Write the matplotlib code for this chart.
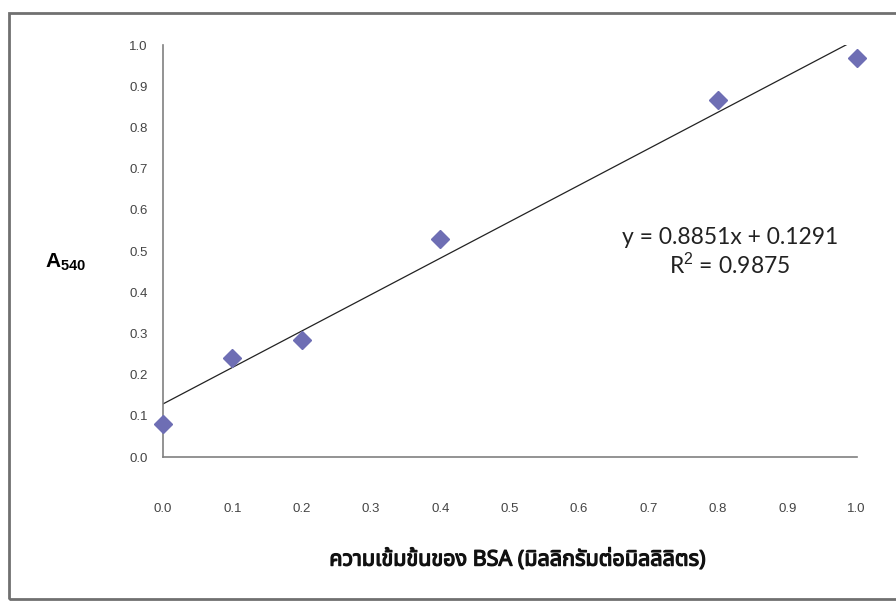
import numpy as np
import matplotlib.pyplot as plt
import matplotlib.patheffects as pe
from matplotlib.patches import Rectangle

# BSA standard curve values
conc = [0.0, 0.1, 0.2, 0.4, 0.8, 1.0]
a540 = [0.08, 0.24, 0.285, 0.53, 0.866, 0.968]
xticks = [0.0, 0.1, 0.2, 0.3, 0.4, 0.5, 0.6, 0.7, 0.8, 0.9, 1.0]
yticks = [0.0, 0.1, 0.2, 0.3, 0.4, 0.5, 0.6, 0.7, 0.8, 0.9, 1.0]
slope = 0.8851
intercept = 0.1291
r2 = 0.9875

plt.rcParams['mathtext.fontset'] = 'custom'
plt.rcParams['mathtext.rm'] = 'Liberation Sans'
plt.rcParams['mathtext.bf'] = 'Liberation Sans:bold'

fig = plt.figure(figsize=(8.96, 6.03), dpi=100)
ax = fig.add_axes([0.182, 0.242, 0.774, 0.683])

ax.plot(conc, a540, 'D', color='#6e6eb4', ms=9, zorder=3, clip_on=False)

xs = np.linspace(0, 1, 200)
ax.plot(xs, slope * xs + intercept, color='#222222', lw=0.9)

ax.set_xlim(0, 1.0)
ax.set_ylim(0, 1.0)
ax.set_xticks(xticks)
ax.set_yticks(yticks)
ax.set_xticklabels(['%.1f' % v for v in xticks])
ax.set_yticklabels(['%.1f' % v for v in yticks])
ax.tick_params(length=0, labelsize=9.5, labelcolor='#444444')
ax.tick_params(axis='x', pad=33)
ax.tick_params(axis='y', pad=11)
for t in ax.get_xticklabels() + ax.get_yticklabels():
    t.set_family('Liberation Sans')
for s in ['top', 'right']:
    ax.spines[s].set_visible(False)
for s in ['left', 'bottom']:
    ax.spines[s].set_color('#808080')
    ax.spines[s].set_linewidth(1.2)

ax.text(0.817, 0.497, 'y = %.4fx + %.4f\nR$^2$ = %.4f' % (slope, intercept, r2),
        transform=ax.transAxes, ha='center', va='center', fontsize=16.5,
        family='Lato', color='#222222', linespacing=1.2)

fig.text(0.05, 0.565, r'$\mathbf{A}_{\mathbf{540}}$', fontsize=15, va='center')

fig.text(0.577, 0.072, 'ความเข้มข้นของ BSA (มิลลิกรัมต่อมิลลิลิตร)', ha='center', va='center',
         fontsize=15.5, fontweight='bold', color='#111111',
         family=['Tahoma', 'Noto Sans Thai', 'Loma', 'Garuda', 'DejaVu Sans'],
         path_effects=[pe.withStroke(linewidth=0.9, foreground='#111111')])

# outer chart border
fig.patches.append(Rectangle((0.01, 0.006), 1.2, 0.972, transform=fig.transFigure,
                             fill=False, edgecolor='#707070', lw=2))

fig.savefig('out.png', dpi=100)
